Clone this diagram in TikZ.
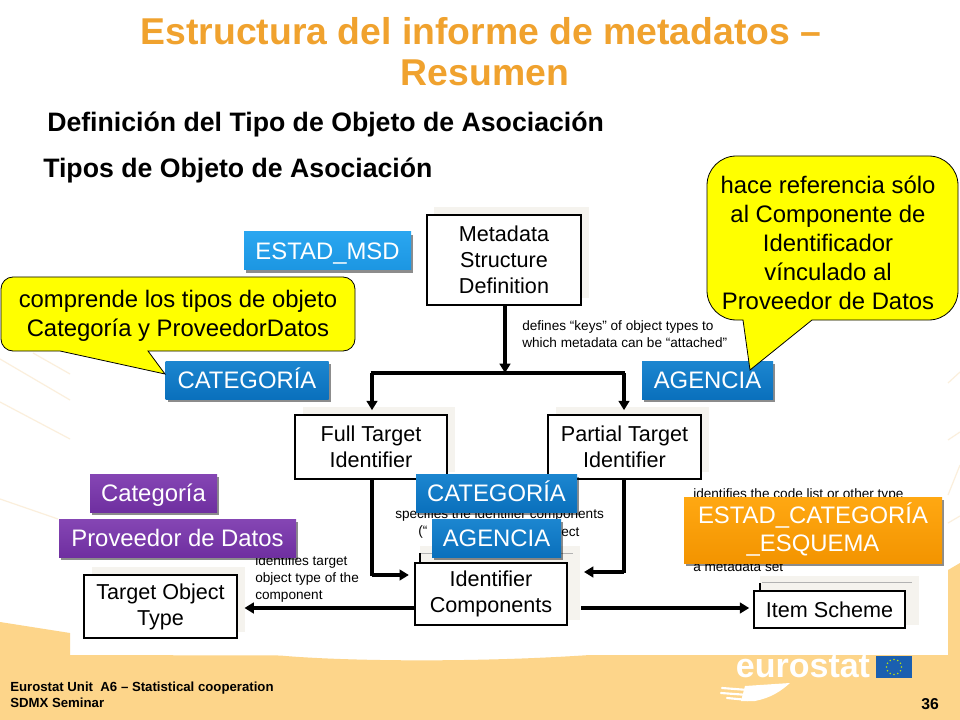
\documentclass[tikz,border=0pt]{standalone}
\usepackage{fontspec}
\setmainfont{Liberation Sans}
\usetikzlibrary{shadows,arrows.meta,calc}
\definecolor{bandorange}{HTML}{FDD58A}
\definecolor{rayorange}{HTML}{FBEFDC}
\definecolor{titleorange}{HTML}{F0A22E}
\definecolor{ghostgray}{HTML}{F5F3EE}
\definecolor{calloutyellow}{HTML}{FFFF00}
\definecolor{skyA}{HTML}{2AA6F0}
\definecolor{skyB}{HTML}{1C96E2}
\definecolor{blueA}{HTML}{1C86D0}
\definecolor{blueB}{HTML}{0A70BC}
\definecolor{purpleA}{HTML}{8546B4}
\definecolor{purpleB}{HTML}{6F2FA0}
\definecolor{orangeA}{HTML}{FFA812}
\definecolor{orangeB}{HTML}{F39400}
\definecolor{flagblue}{HTML}{1A5FB0}
\tikzset{
    boxsize/.style 2 args={minimum width=#1*0.75pt,minimum height=#2*0.75pt,inner sep=0pt},
    plainbox/.style={draw=black,line width=1.2pt,fill=white,align=center,text=black,
        font=\fontsize{16.2}{19.5}\selectfont},
    tagbox/.style={text=white,align=center,font=\fontsize{17.9}{21}\selectfont,
        drop shadow={shadow xshift=1.5pt,shadow yshift=-2pt,opacity=.45,fill=black}},
    tagline/.style={tagbox,text height=12.8pt,text depth=0pt},
    skytag/.style={tagline,top color=skyA,bottom color=skyB},
    darktag/.style={tagline,top color=blueA,bottom color=blueB},
    purpletag/.style={tagline,top color=purpleA,bottom color=purpleB},
    orangetag/.style={tagbox,top color=orangeA,bottom color=orangeB},
    smalltext/.style={font=\fontsize{10.2}{12.8}\selectfont,align=left,anchor=west,inner sep=0pt},
    calloutshape/.style={draw=black,line width=0.6pt,fill=calloutyellow},
    callouttext/.style={align=center,font=\fontsize{17.9}{21.8}\selectfont,inner sep=0pt},
    link/.style={line width=2.6pt,-{Triangle[length=7pt,width=8pt]}},
    linkplain/.style={line width=2.6pt},
    ray/.style={rayorange,line width=0.9pt},
    bigtitle/.style={text=titleorange,font=\fontsize{28}{28}\bfseries\selectfont},
    heading/.style={anchor=west,inner sep=0pt,font=\fontsize{20}{20}\bfseries\selectfont},
}
\begin{document}
\begin{tikzpicture}[x=0.75pt,y=-0.75pt]
    \useasboundingbox (0,0) rectangle (960,720);
    \fill[white] (0,0) rectangle (960,720);
    \draw[ray] (0,359) -- (70,400);
    \draw[ray] (33,353) -- (70,374);
    \draw[ray] (0,402) -- (70,439);
    \draw[ray] (0,499) -- (58,519);
    \draw[ray] (948,383) -- (960,372);
    \draw[ray] (948,440) -- (960,432);
    \draw[ray] (948,495) -- (960,465);
    \draw[ray] (948,523) -- (960,516);
    \fill[bandorange] (0,622) -- (70,633) -- (70,655) -- (280,655.5) .. controls (340,661) and (470,663) .. (590,655) -- (948,655) -- (948,570) -- (960,563) -- (960,720) -- (0,720) -- cycle;

    \node (title) at (481,31) [bigtitle] {Estructura del informe de metadatos --};
    \node (titleb) at (485,73) [bigtitle] {Resumen};
    \node (heada) at (47,124) [heading] {Definición del Tipo de Objeto de Asociación};
    \node (headb) at (43,170) [heading] {Tipos de Objeto de Asociación};

    \fill[ghostgray] (434,207) rectangle (589,298);
    \fill[ghostgray] (303,407) rectangle (455,472);
    \fill[ghostgray] (556,407) rectangle (709,472);
    \fill[ghostgray] (92,567) rectangle (245,632);

    \node (msd) at (504,260) [plainbox,boxsize={154}{90}] {Metadata\\Structure\\Definition};
    \node (full) at (371,447) [plainbox,boxsize={152}{64}] {Full Target\\Identifier};
    \node (partial) at (624.5,447) [plainbox,boxsize={153}{64}] {Partial Target\\Identifier};
    \node (target) at (160.5,606.5) [plainbox,boxsize={153}{63}] {Target Object\\Type};

    \coordinate (barleft) at (372,373);
    \coordinate (barright) at (624,373);
    \coordinate (barmid) at (505,373);
    \coordinate (midlink) at (491,608);
    \coordinate (lowleft) at (372,575);
    \coordinate (lowright) at (624,572);

    \draw[linkplain] ([xshift=-1pt]barleft) -- ([xshift=1pt]barright);
    \draw[link] (barmid |- msd.south) -- (barmid);
    \draw[link,shorten >=3pt] (barleft) -- (barleft |- full.north);
    \draw[link,shorten >=3pt] (barright) -- (barright |- partial.north);
    \draw[linkplain] (barleft |- full.south) -- ([yshift=-1pt]lowleft);

    \fill[ghostgray] (420,546) rectangle (580,620);
    \fill[ghostgray] (760,576) rectangle (919,625);
    \draw[gray!60,line width=0.5pt] (420,553) -- (573,553);
    \draw[gray!60,line width=0.5pt] (762,582) -- (912,582);
    \draw[black,line width=0.8pt] (420,553) -- (420,563);
    \draw[black,line width=1pt] (760,583) -- (760,591);

    \node (idcomp) at (491,594) [plainbox,boxsize={152}{62}] {Identifier\\Components};
    \node (item) at (829.5,609.5) [plainbox,boxsize={151}{37}] {Item Scheme};

    \draw[link,shorten >=4pt] (lowleft) -- (lowleft -| idcomp.west);
    \draw[linkplain] (barright |- partial.south) -- ([yshift=-1pt]lowright);
    \draw[link] (lowright) -- (584,572);
    \draw[link,shorten >=5pt] (midlink -| idcomp.west) -- (midlink -| target.east);
    \draw[link,shorten <=10pt,shorten >=3pt] (midlink -| idcomp.east) -- (midlink -| item.west);

    \node (keys) at (522,334.5) [smalltext] {defines “keys” of object types to\\which metadata can be “attached”};
    \node (specifies) at (395,515) [smalltext] {specifies the identifier components};
    \node (specopen) at (418,532) [smalltext] {(“};
    \node (specend) at (561,532) [smalltext] {ect};
    \node (targetnote) at (255,579) [smalltext] {identifies target\\object type of the\\component};
    \node (schemetop) at (693,495) [smalltext] {identifies the code list or other type};
    \node (schemeend) at (693,567) [smalltext] {a metadata set};

    \node (estadmsd) at (327.5,251) [skytag,boxsize={167}{38}] {ESTAD\_MSD};
    \node (catup) at (247,380) [darktag,boxsize={163}{38}] {CATEGORÍA};
    \node (agup) at (707.5,380) [darktag,boxsize={131}{38}] {AGENCIA};
    \node (catlow) at (496.5,493) [darktag,boxsize={161}{38}] {CATEGORÍA};
    \node (aglow) at (496.5,538) [darktag,boxsize={129}{38}] {AGENCIA};
    \node (categoria) at (153.5,493) [purpletag,boxsize={127}{38}] {Categoría};
    \node (proveedor) at (177.5,538) [purpletag,boxsize={237}{38}] {Proveedor de Datos};
    \node (esquema) at (813,530) [orangetag,boxsize={258}{66}] {ESTAD\_CATEGORÍA\\\_ESQUEMA};

    \draw[calloutshape] (60,351) [rounded corners=9pt] -- (1,351) -- (1,277) -- (355,277) -- (355,351) [sharp corners] -- (148,351) -- (165,374) -- cycle;
    \draw[calloutshape] (743,320) [rounded corners=22pt] -- (707,320) -- (707,156) -- (958,156) -- (958,320) [sharp corners] -- (812,320) -- (750,370) -- cycle;
    \node (calloutleft) at (178,316) [callouttext] {comprende los tipos de objeto\\Categoría y ProveedorDatos};
    \node (calloutright) at (828,243) [callouttext] {hace referencia sólo\\al Componente de\\Identificador\\vínculado al\\Proveedor de Datos};

    \node (footer) at (10,695) [anchor=west,inner sep=0pt,align=left,font=\fontsize{9.9}{12}\bfseries\selectfont] {Eurostat Unit\ \ A6 -- Statistical cooperation\\SDMX Seminar};
    \node (pagenum) at (930,704) [inner sep=0pt,font=\fontsize{11.8}{12}\bfseries\selectfont] {36};

    \node (logo) at (803,667) [text=white,inner sep=0pt,font=\fontsize{25.5}{25.5}\bfseries\selectfont] {eurostat};
    \fill[flagblue] (876,656) rectangle (912,678);
    \foreach \ang in {0,30,...,330}
        \fill[yellow!70!green] ($(894,667)+(\ang:7.5)$) circle (0.8);
    \fill[white] (790,683) -- (745,686) -- (741,701) -- (755,701) .. controls (770,698) and (780,692) .. cycle;
    \draw[white,line width=1.6pt,line cap=round] (722,688) -- (748,690);
    \draw[white,line width=1.6pt,line cap=round] (721,693) -- (748,695);
    \draw[white,line width=1.6pt,line cap=round] (727,698) -- (748,700);
\end{tikzpicture}
\end{document}
